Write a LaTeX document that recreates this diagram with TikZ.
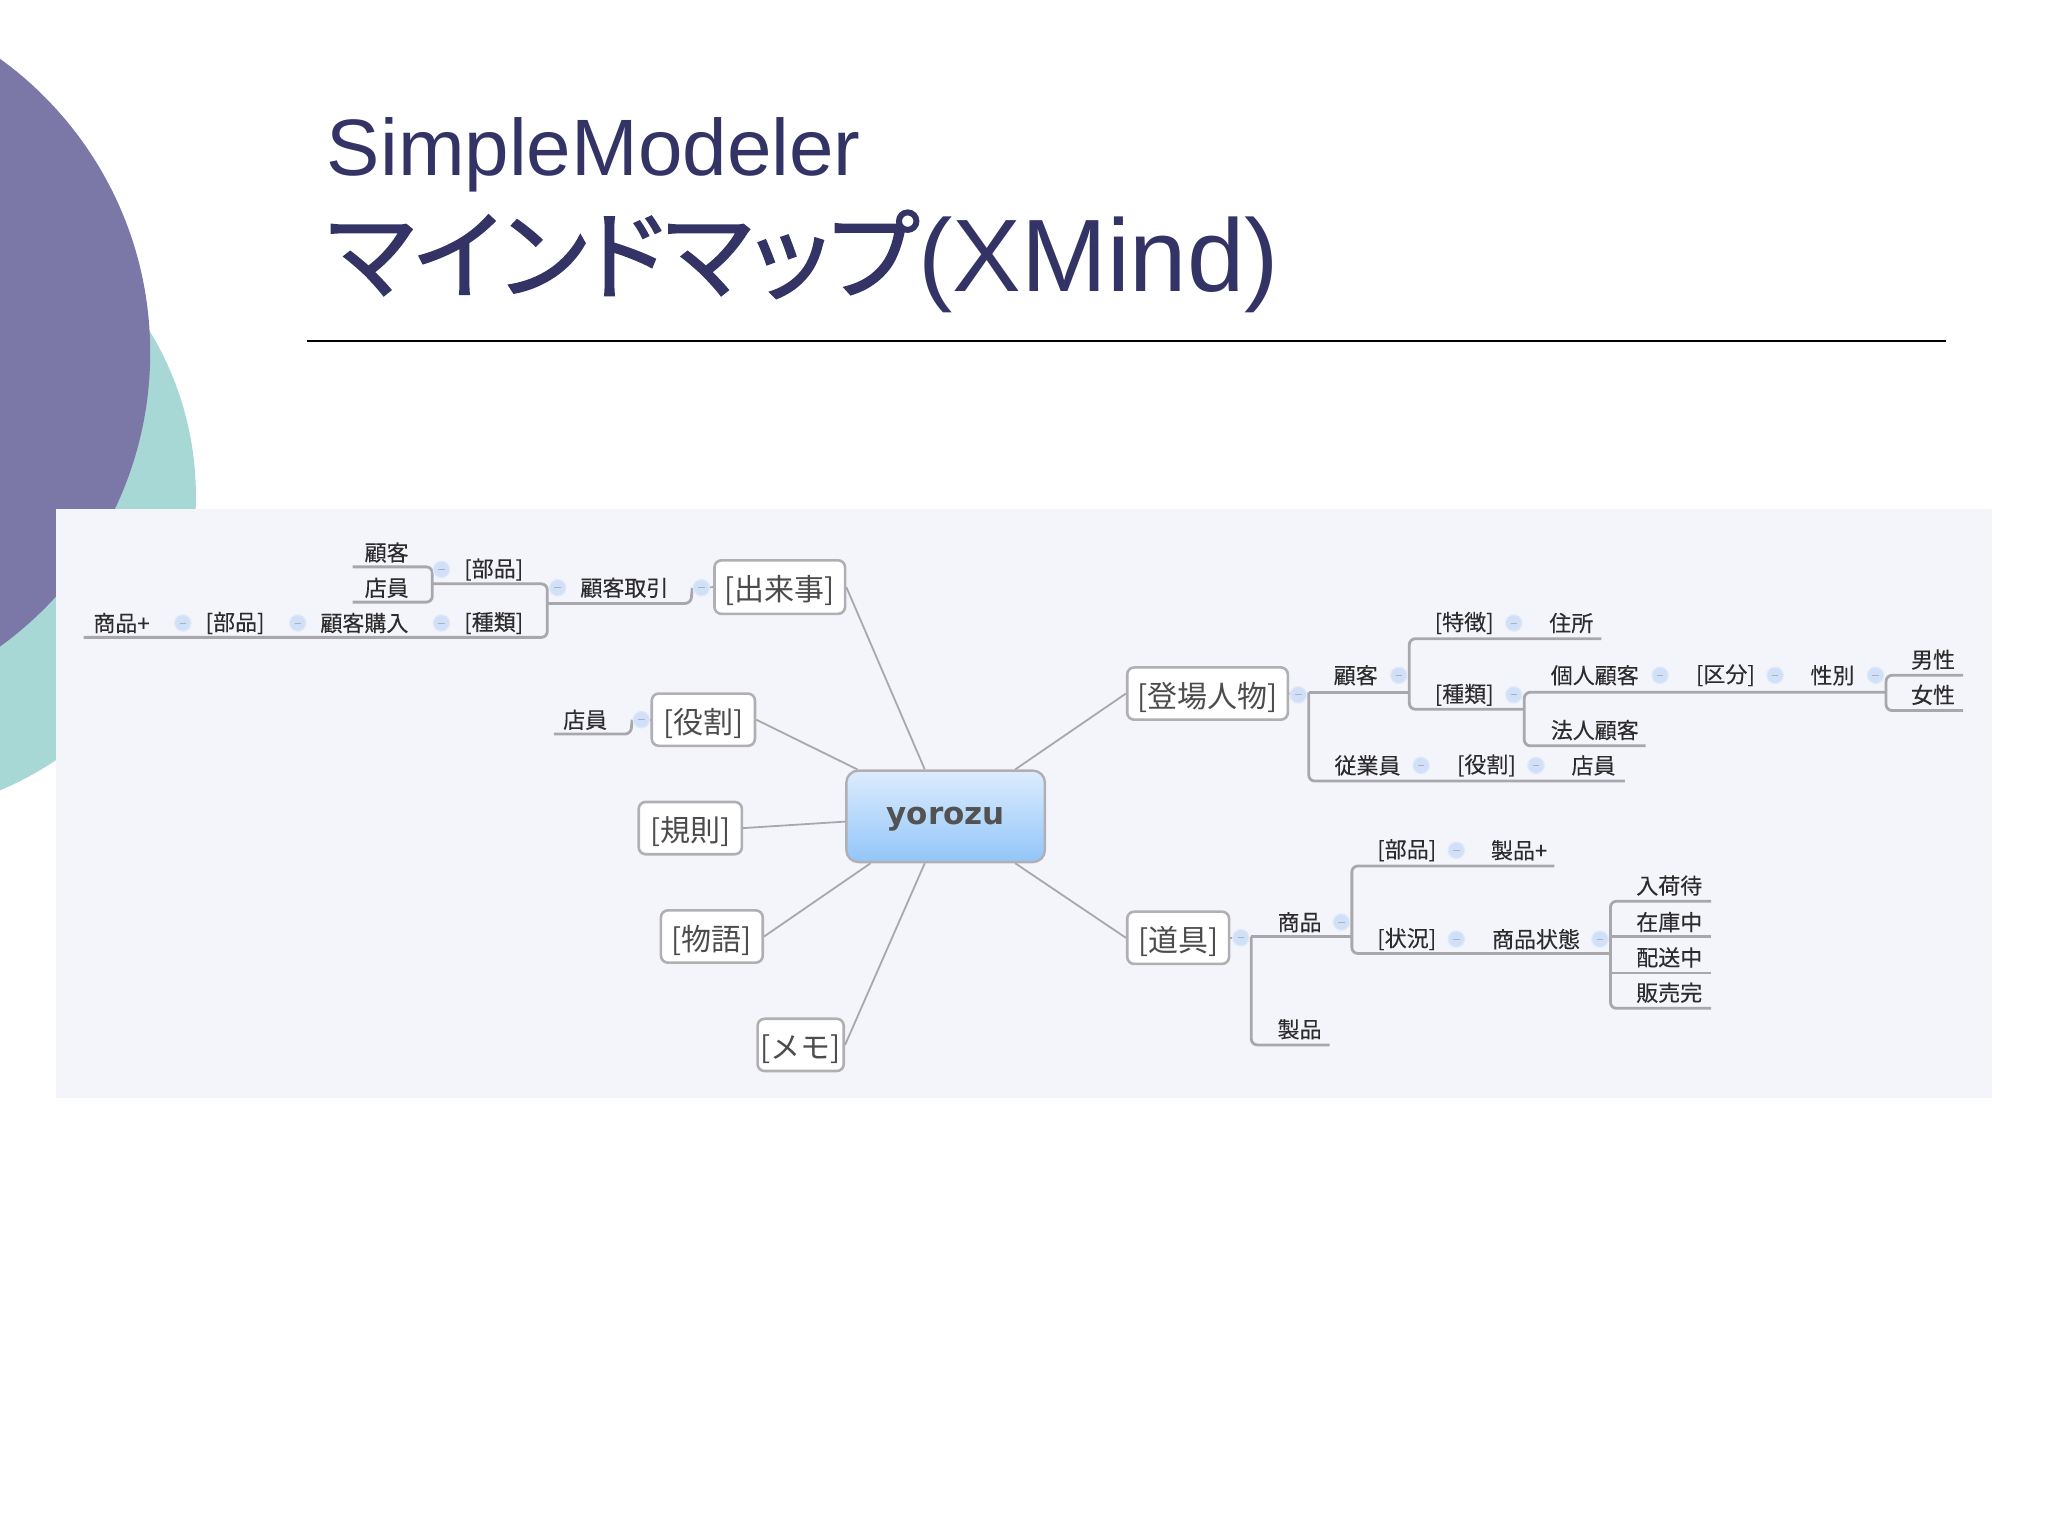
\documentclass[tikz,border=0pt]{standalone}
\usepackage{fontspec}
\usetikzlibrary{calc}
\setmainfont{Liberation Sans}
\newfontfamily\cjk[FakeBold=0.12]{Noto Sans CJK JP}
\newfontfamily\cjktopic{Noto Sans CJK JP}
\newfontfamily\titlejp[RawFeature={+palt},FakeBold=1.6]{Noto Sans CJK JP}
\newfontfamily\yoroz{DejaVu Sans}
\definecolor{navy}{HTML}{333366}
\definecolor{purp}{HTML}{7B78A8}
\definecolor{teal2}{HTML}{A8D8D6}
\definecolor{panel}{HTML}{F4F4FB}
\definecolor{linec}{HTML}{A8A8AC}
\definecolor{boxc}{HTML}{B0B0B4}
\definecolor{knobf}{HTML}{CFE0F8}
\definecolor{knobd}{HTML}{DEE9FA}
\definecolor{txt}{HTML}{2C2C2C}
\definecolor{gradtop}{HTML}{DDECFD}
\definecolor{gradbot}{HTML}{92C5F9}
\newdimen\unitp \unitp=0.65306pt
\tikzset{
  titletext/.style={anchor=base west,inner sep=0pt,text=navy,font=\fontsize{40}{40}\selectfont},
  topic/.style={draw=boxc,line width=1.3pt,fill=white,rounded corners=3.5pt,inner sep=0pt,text=txt!85!white,font=\cjktopic\fontsize{15}{15}\selectfont,text height=15.5pt,text depth=2pt},
  central/.style={draw=boxc,line width=1.2pt,rounded corners=6pt,inner sep=0pt,top color=gradtop,bottom color=gradbot,text=black!68,font=\yoroz\bfseries\fontsize{15.5}{15.5}\selectfont,minimum width=152\unitp,minimum height=70\unitp,text height=11pt,text depth=3.2pt},
  lab/.style={inner sep=0pt,text=txt,font=\cjk\fontsize{11}{11}\selectfont},
  knob/.style={circle,draw=knobd,fill=knobf,line width=0.6pt,minimum size=12.5\unitp,inner sep=0pt},
  link/.style={draw=linec,line width=0.9pt},
  branch/.style={draw=linec,line width=1.4pt,rounded corners=3pt},
}
\newcommand{\tpc}[6]{\node[topic,minimum width=#4\unitp,minimum height=#5\unitp] (#1) at (#2,#3) {#6};}
\newcommand{\lb}[4]{\node[lab] (#1) at (#2,#3) {#4};}
\newcommand{\kn}[3]{\node[knob] (#1) at (#2,#3) {}; \draw[line width=0.5pt,draw=black!30] ($(#1)+(-2.5,0)$) -- ($(#1)+(2.5,0)$);}
\begin{document}
\begin{tikzpicture}[x=0.65306pt,y=-0.65306pt]
\useasboundingbox (0,0) rectangle (1568,1176);
\fill[white] (0,0) rectangle (1568,1176);
\begin{scope}
\clip (0,0) rectangle (1568,1176);
\fill[teal2] (-93.75,380) circle[radius=243.75];
\fill[purp] (-162.6,270) circle[radius=277.6];
\end{scope}
\node[titletext] (t1) at (250,134) {SimpleModeler};
\node[titletext,font=\fontsize{51.5}{51.5}\selectfont] (t2) at (250,223) {{\titlejp\fontsize{48.8}{48.8}\selectfont マインドマップ}(XMind)};
\draw[black,line width=1.3pt] (235,261) -- (1490,261);
\fill[panel] (43,390) rectangle (1525,841);

% central and main topics
\node[central] (yor) at (724,625) {yorozu};
\tpc{chu}{597}{449.5}{100}{41}{[出来事]}
\tpc{yak}{538.5}{551}{79}{40}{[役割]}
\tpc{kis}{528.5}{634}{79}{40}{[規則]}
\tpc{mon}{545}{717}{78}{40}{[物語]}
\tpc{mem}{613}{800}{66}{40}{[メモ]}
\tpc{toj}{924.5}{531}{123}{40}{[登場人物]}
\tpc{dou}{902}{718}{78}{40}{[道具]}
\draw[link] (chu.east) -- (yor.114.6);
\draw[link] (yak.east) -- (yor.152.8);
\draw[link] (kis.east) -- (yor.183.8);
\draw[link] (mon.east) -- (yor.212.9);
\draw[link] (mem.east) -- (yor.246.8);
\draw[link] (toj.west) -- (yor.34);
\draw[link] (dou.west) -- (yor.-34);

% named line ends
\foreach \n/\x/\y in {
 a1/270/434,a2/331/434,a3/331/461,a4/270/461,a5/331/447,a6/419/447,a7/419/488,a8/64/488,a9/419/462,a10/529/462,a11/530/450,
 b1/424/562,b2/483/562,b3/484/551,
 c1/1002/530,c2/1002/598,c3/1244/598,c4/1079/530,c5/1079/489,c6/1226/489,c7/1079/543,c8/1167/543,c9/1167/530,c10/1167/571,c11/1260/571,c12/1444/530,c13/1444/517,c14/1503/517,c15/1444/544,c16/1503/544,
 d1/958/717,d2/958/800,d3/1018/800,d4/1035/717,d5/1035/663,d6/1190/663,d7/1035/730,d8/1233/730,d9/1233/690,d10/1310/690,d11/1233/717,d12/1310/717,d13/1233/745,d14/1310/745,d15/1233/772,d16/1310/772}
 {\coordinate (\n) at (\x,\y);}

% left tree
\draw[branch] (a1) -- (a2) -- (a3) -- (a4);
\draw[branch] (a5) -- (a6) -- (a7) -- (a8);
\draw[branch] (a9) -- (a10) -- (a11);
\draw[branch] (b1) -- (b2) -- (b3);
% right trees
\draw[branch] (c1) -- (c2) -- (c3);
\draw[branch] (c1) -- (c4);
\draw[branch] (c6) -- (c5) -- (c7) -- (c8);
\draw[branch] (c12) -- (c9) -- (c10) -- (c11);
\draw[branch] (c14) -- (c13) -- (c15) -- (c16);
\draw[branch] (d1) -- (d2) -- (d3);
\draw[branch] (d1) -- (d4);
\draw[branch] (d6) -- (d5) -- (d7) -- (d8);
\draw[branch] (d10) -- (d9) -- (d15) -- (d16);
\draw[branch] (d11) -- (d12);
\draw[branch] (d13) -- (d14);

% knobs
\kn{k1}{338}{436}\kn{k2}{427}{450}\kn{k3}{537}{450}\kn{k4}{140}{477}\kn{k5}{228}{477}\kn{k6}{338}{477}
\kn{k7}{491}{551}
\kn{k8}{994}{532}\kn{k9}{1071}{517}\kn{k10}{1159}{477}\kn{k11}{1159}{532}\kn{k12}{1271}{517}\kn{k13}{1359}{517}\kn{k14}{1436}{517}\kn{k15}{1088}{586}\kn{k16}{1176}{586}
\kn{k17}{950}{718}\kn{k18}{1027}{706}\kn{k19}{1115}{651}\kn{k20}{1115}{719}\kn{k21}{1225}{719}
\draw[link] (k3) -- (chu.west);
\draw[link] (k7) -- (yak.west);
\draw[link] (toj.east) -- (k8);
\draw[link] (dou.east) -- (k17);

% labels
\lb{l1}{296}{423}{顧客}\lb{l2}{296}{450}{店員}\lb{l3}{378}{436}{[部品]}\lb{l4}{478}{450}{顧客取引}
\lb{l5}{93}{477}{商品+}\lb{l6}{180}{477}{[部品]}\lb{l7}{279}{477}{顧客購入}\lb{l8}{378}{477}{[種類]}
\lb{l9}{448}{551}{店員}
\lb{r1}{1121}{477}{[特徴]}\lb{r2}{1203}{477}{住所}\lb{r3}{1038}{517}{顧客}\lb{r4}{1121}{532}{[種類]}
\lb{r5}{1221}{517}{個人顧客}\lb{r6}{1321}{517}{[区分]}\lb{r7}{1403}{517}{性別}\lb{r8}{1480}{505}{男性}\lb{r9}{1480}{532}{女性}
\lb{r10}{1221}{559}{法人顧客}\lb{r11}{1047}{586}{従業員}\lb{r12}{1138}{586}{[役割]}\lb{r13}{1220}{586}{店員}
\lb{s1}{995}{706}{商品}\lb{s2}{995}{788}{製品}\lb{s3}{1077}{651}{[部品]}\lb{s4}{1163}{651}{製品+}
\lb{s5}{1077}{719}{[状況]}\lb{s6}{1176}{719}{商品状態}
\lb{s7}{1278}{678}{入荷待}\lb{s8}{1278}{706}{在庫中}\lb{s9}{1278}{733}{配送中}\lb{s10}{1278}{760}{販売完}
\end{tikzpicture}
\end{document}
